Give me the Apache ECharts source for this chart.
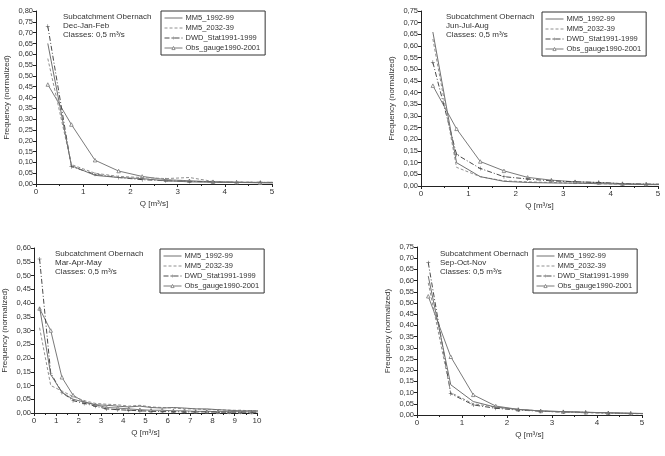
<!DOCTYPE html>
<html>
<head>
    <meta charset="utf-8">
    <title>Frequency Obernach</title>
    <script src="https://cdn.jsdelivr.net/npm/echarts@6/dist/echarts.min.js"></script>
    <style>
        html, body { margin: 0; padding: 0; background: #fff; }
        #main { width: 665px; height: 456px; }
    </style>
</head>
<body>
<div id="main"></div>
<script type="text/javascript">
    // class centres (0,5 m3/s classes); the last class runs past the axis end and is clipped
    var q5 = [0.25, 0.75, 1.25, 1.75, 2.25, 2.75, 3.25, 3.75, 4.25, 4.75, 5.25];
    var q10 = [0.25, 0.75, 1.25, 1.75, 2.25, 2.75, 3.25, 3.75, 4.25, 4.75,
               5.25, 5.75, 6.25, 6.75, 7.25, 7.75, 8.25, 8.75, 9.25, 9.75, 10.25];

    var seriesNames = ['MM5_1992-99', 'MM5_2032-39', 'DWD_Stat1991-1999', 'Obs_gauge1990-2001'];

    // Dec-Jan-Feb
    var djf_mm5_92 = [0.65, 0.085, 0.040, 0.030, 0.025, 0.015, 0.010, 0.008, 0.007, 0.006, 0.006];
    var djf_mm5_32 = [0.58, 0.090, 0.050, 0.035, 0.030, 0.025, 0.030, 0.012, 0.010, 0.008, 0.007];
    var djf_dwd    = [0.73, 0.080, 0.045, 0.030, 0.020, 0.015, 0.012, 0.010, 0.008, 0.008, 0.007];
    var djf_obs    = [0.46, 0.275, 0.110, 0.060, 0.035, 0.020, 0.015, 0.010, 0.008, 0.006, 0.005];

    // Jun-Jul-Aug
    var jja_mm5_92 = [0.66, 0.100, 0.040, 0.020, 0.015, 0.013, 0.012, 0.010, 0.008, 0.006, 0.006];
    var jja_mm5_32 = [0.63, 0.080, 0.040, 0.022, 0.018, 0.015, 0.012, 0.010, 0.008, 0.006, 0.006];
    var jja_dwd    = [0.53, 0.135, 0.075, 0.040, 0.030, 0.022, 0.018, 0.015, 0.010, 0.008, 0.007];
    var jja_obs    = [0.43, 0.245, 0.105, 0.065, 0.037, 0.025, 0.018, 0.015, 0.010, 0.008, 0.007];

    // Mar-Apr-May
    var mam_mm5_92 = [0.385, 0.140, 0.075, 0.050, 0.040, 0.030, 0.028, 0.025, 0.022, 0.025,
                      0.020, 0.018, 0.020, 0.018, 0.015, 0.015, 0.012, 0.010, 0.008, 0.008, 0.008];
    var mam_mm5_32 = [0.310, 0.100, 0.080, 0.060, 0.045, 0.035, 0.032, 0.030, 0.025, 0.028,
                      0.022, 0.020, 0.018, 0.015, 0.015, 0.012, 0.012, 0.010, 0.010, 0.008, 0.008];
    var mam_dwd    = [0.560, 0.145, 0.075, 0.045, 0.035, 0.025, 0.015, 0.012, 0.010, 0.008,
                      0.006, 0.005, 0.005, 0.004, 0.004, 0.004, 0.003, 0.003, 0.003, 0.003, 0.003];
    var mam_obs    = [0.380, 0.300, 0.130, 0.065, 0.040, 0.030, 0.020, 0.018, 0.015, 0.012,
                      0.010, 0.010, 0.008, 0.008, 0.006, 0.006, 0.005, 0.005, 0.005, 0.004, 0.004];

    // Sep-Oct-Nov
    var son_mm5_92 = [0.62, 0.135, 0.060, 0.035, 0.025, 0.018, 0.015, 0.012, 0.010, 0.007, 0.006];
    var son_mm5_32 = [0.59, 0.100, 0.050, 0.035, 0.025, 0.018, 0.012, 0.010, 0.008, 0.006, 0.005];
    var son_dwd    = [0.68, 0.095, 0.045, 0.030, 0.022, 0.017, 0.013, 0.012, 0.008, 0.007, 0.006];
    var son_obs    = [0.53, 0.260, 0.090, 0.040, 0.025, 0.018, 0.015, 0.012, 0.010, 0.008, 0.006];

    var panels = [
        {season: 'Dec-Jan-Feb', q: q5, xMax: 5, yMax: 0.80, data: [djf_mm5_92, djf_mm5_32, djf_dwd, djf_obs],
         grid: {left: 36, top: 11, width: 236, height: 173}, legend: {left: 161, top: 11}, note: {left: 63, top: 12}},
        {season: 'Jun-Jul-Aug', q: q5, xMax: 5, yMax: 0.75, data: [jja_mm5_92, jja_mm5_32, jja_dwd, jja_obs],
         grid: {left: 421, top: 11, width: 237, height: 175}, legend: {left: 542, top: 12}, note: {left: 446, top: 12}},
        {season: 'Mar-Apr-May', q: q10, xMax: 10, yMax: 0.60, data: [mam_mm5_92, mam_mm5_32, mam_dwd, mam_obs],
         grid: {left: 34, top: 248, width: 223, height: 165}, legend: {left: 160, top: 249}, note: {left: 55, top: 249}},
        {season: 'Sep-Oct-Nov', q: q5, xMax: 5, yMax: 0.75, data: [son_mm5_92, son_mm5_32, son_dwd, son_obs],
         grid: {left: 417, top: 247, width: 225, height: 168}, legend: {left: 533, top: 249}, note: {left: 440, top: 249}}
    ];

    var plusPath = 'path://M4.4,0h1.2v4.4h4.4v1.2h-4.4v4.4h-1.2v-4.4h-4.4v-1.2h4.4z';
    var styles = [
        {color: '#707070', type: 'solid', symbol: 'none', size: 0, fill: '#707070', border: 0},
        {color: '#909090', type: [3, 2], symbol: 'none', size: 0, fill: '#909090', border: 0},
        {color: '#4a4a4a', type: [5, 2, 1, 2], symbol: plusPath, size: 4, fill: '#4a4a4a', border: 0},
        {color: '#7a7a7a', type: 'solid', symbol: 'triangle', size: 3.5, fill: '#ffffff', border: 0.8}
    ];

    var font = 'Liberation Sans, Arial, sans-serif';
    var fmt = function (v) { return v.toFixed(2).replace('.', ','); };

    var grids = [], xAxes = [], yAxes = [], series = [], legends = [], titles = [];

    panels.forEach(function (p, i) {
        grids.push(p.grid);
        xAxes.push({
            gridIndex: i, type: 'value', min: 0, max: p.xMax, interval: 1,
            name: 'Q [m³/s]', nameLocation: 'middle', nameGap: 16,
            nameTextStyle: {fontFamily: font, fontSize: 8, color: '#333'},
            axisLine: {lineStyle: {color: '#222', width: 1}},
            axisTick: {length: 3, lineStyle: {color: '#222'}},
            minorTick: {show: true, splitNumber: 2, length: 2, lineStyle: {color: '#222'}},
            axisLabel: {fontFamily: font, fontSize: 8, color: '#333', margin: 4},
            splitLine: {show: false}
        });
        yAxes.push({
            gridIndex: i, type: 'value', min: 0, max: p.yMax, interval: 0.05,
            name: 'Frequency (normalized)', nameLocation: 'middle', nameGap: 25,
            nameTextStyle: {fontFamily: font, fontSize: 8, color: '#333'},
            axisLine: {show: true, lineStyle: {color: '#222', width: 1}},
            axisTick: {show: true, length: 3, lineStyle: {color: '#222'}},
            axisLabel: {fontFamily: font, fontSize: 7.5, color: '#333', margin: 3, formatter: fmt},
            splitLine: {show: false}
        });
        p.data.forEach(function (vals, k) {
            var st = styles[k];
            series.push({
                name: seriesNames[k],
                type: 'line',
                xAxisIndex: i,
                yAxisIndex: i,
                data: p.q.map(function (x, j) { return [x, vals[j]]; }),
                symbol: st.symbol,
                symbolSize: st.size,
                showSymbol: st.symbol !== 'none',
                clip: true,
                lineStyle: {color: st.color, width: 1, type: st.type},
                itemStyle: {color: st.fill, borderColor: st.color, borderWidth: st.border},
                animation: false,
                z: 4 - k
            });
        });
        legends.push({
            left: p.legend.left, top: p.legend.top,
            orient: 'vertical',
            data: seriesNames.map(function (n, k) {
                var st = styles[k];
                if (st.symbol === 'none') return {name: n, itemStyle: {opacity: 0}};
                return {name: n, itemStyle: {color: st.fill, borderColor: st.color, borderWidth: st.border}};
            }),
            itemWidth: 18, itemHeight: 4, itemGap: 2,
            padding: [3, 5, 3, 3],
            borderColor: '#333', borderWidth: 1,
            lineStyle: {width: 1},
            textStyle: {fontFamily: font, fontSize: 7.5, color: '#333', padding: [0, 0, 0, -2]},
            selectedMode: false
        });
        titles.push({
            left: p.note.left, top: p.note.top,
            text: 'Subcatchment Obernach\n' + p.season + '\nClasses: 0,5 m³/s',
            textStyle: {fontFamily: font, fontSize: 8, fontWeight: 'normal', color: '#333', lineHeight: 9},
            padding: 0
        });
    });

    var myChart = echarts.init(document.getElementById('main'));
    myChart.setOption({
        backgroundColor: '#fff',
        animation: false,
        title: titles,
        legend: legends,
        grid: grids,
        xAxis: xAxes,
        yAxis: yAxes,
        series: series
    });
</script>
</body>
</html>
